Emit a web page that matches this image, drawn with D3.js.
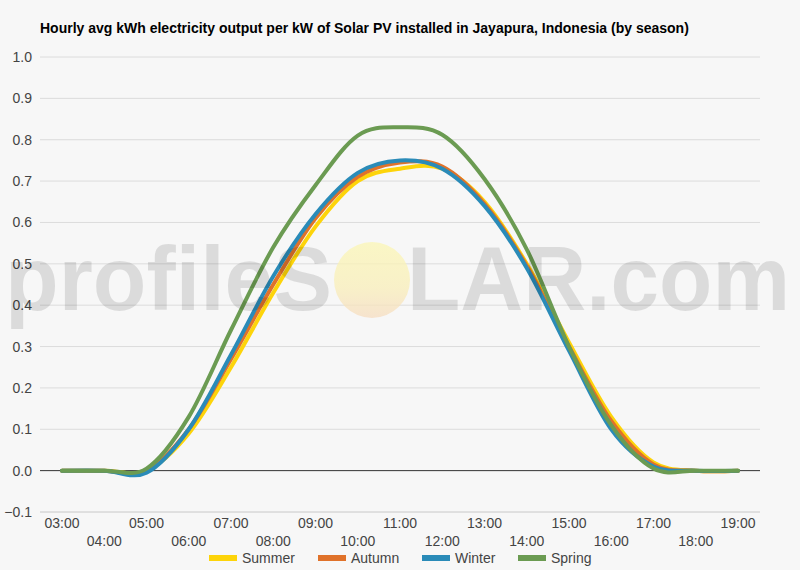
<!DOCTYPE html>
<html>
<head>
<meta charset="utf-8">
<script src="https://cdn.jsdelivr.net/npm/d3@7"></script>
<style>
  body { margin: 0; background: #f7f7f7; }
  svg { display: block; font-family: "Liberation Sans", Arial, sans-serif; }
</style>
</head>
<body>
<div id="chart"></div>
<script>
const hours = [3, 4, 5, 6, 7, 8, 9, 10, 11, 12, 13, 14, 15, 16, 17, 18, 19];
const hourLabels = hours.map(h => `${String(h).padStart(2, "0")}:00`);
const yTicks = [-0.1, 0, 0.1, 0.2, 0.3, 0.4, 0.5, 0.6, 0.7, 0.8, 0.9, 1.0];

const summer = [0, 0, 0, 0.09, 0.25, 0.43, 0.59, 0.70, 0.73, 0.73, 0.65, 0.50, 0.31, 0.13, 0.02, 0, 0];
const autumn = [0, 0, 0, 0.10, 0.27, 0.45, 0.61, 0.71, 0.745, 0.735, 0.645, 0.495, 0.30, 0.12, 0.015, 0, 0];
const winter = [0, 0, -0.005, 0.10, 0.28, 0.47, 0.62, 0.72, 0.75, 0.73, 0.64, 0.49, 0.29, 0.10, 0.01, 0, 0];
const spring = [0, 0, 0.005, 0.13, 0.34, 0.54, 0.69, 0.81, 0.83, 0.812, 0.705, 0.535, 0.30, 0.11, 0.005, 0, 0];

const seasons = ["Summer", "Autumn", "Winter", "Spring"];
const colors = ["#fdd40a", "#e0722a", "#2a8bb8", "#6b9b52"];
const seriesValues = [summer, autumn, winter, spring];

const width = 800;
const height = 570;
const plot = { left: 40, right: 760, top: 57, bottom: 512 };

const svg = d3.select("#chart")
    .append("svg")
    .attr("width", width)
    .attr("height", height);

svg.append("rect")
    .attr("width", width)
    .attr("height", height)
    .attr("fill", "#f7f7f7");

const x = d3.scaleLinear()
    .domain([3, 19])
    .range([62, 738]);

const y = d3.scaleLinear()
    .domain([-0.1, 1.0])
    .range([plot.bottom, plot.top]);

// title
svg.append("text")
    .attr("x", 40)
    .attr("y", 33)
    .style("font-size", "14px")
    .style("font-weight", "bold")
    .attr("fill", "#000")
    .text("Hourly avg kWh electricity output per kW of Solar PV installed in Jayapura, Indonesia (by season)");

// gridlines
svg.append("g")
    .selectAll("line")
    .data(yTicks)
    .join("line")
    .attr("x1", plot.left)
    .attr("x2", plot.right)
    .attr("y1", d => y(d))
    .attr("y2", d => y(d))
    .attr("stroke", d => d === 0 ? "#333" : (d === -0.1 ? "#c8c8c8" : "#dcdcdc"))
    .attr("stroke-width", 1);

// y labels
const yAxis = svg.append("g")
    .attr("transform", `translate(${plot.left},0)`)
    .call(d3.axisLeft(y).tickValues(yTicks).tickFormat(d3.format(".1f")).tickSize(0).tickPadding(8));
yAxis.select(".domain").remove();
yAxis.selectAll("text")
    .style("font-size", "14px")
    .style("font-family", "Liberation Sans, Arial, sans-serif")
    .attr("fill", "#444");

// x labels, two rows
svg.append("g")
    .selectAll("text")
    .data(hours)
    .join("text")
    .attr("x", d => x(d))
    .attr("y", (d, i) => i % 2 === 0 ? 528 : 546)
    .attr("text-anchor", "middle")
    .style("font-size", "14px")
    .attr("fill", "#444")
    .text((d, i) => hourLabels[i]);

// lines
const line = d3.line()
    .x((d, i) => x(hours[i]))
    .y(d => y(d))
    .curve(d3.curveCardinal.tension(0));

svg.append("g")
    .selectAll("path")
    .data(seriesValues)
    .join("path")
    .attr("d", d => line(d))
    .attr("fill", "none")
    .attr("stroke", (d, i) => colors[i])
    .attr("stroke-width", 4)
    .attr("stroke-linejoin", "round")
    .attr("stroke-linecap", "round");

// watermark (drawn over the chart, semi-transparent)
const defs = svg.append("defs");
const grad = defs.append("linearGradient")
    .attr("id", "sun")
    .attr("x1", 0).attr("y1", 0).attr("x2", 0).attr("y2", 1);
grad.append("stop").attr("offset", "0%").attr("stop-color", "#fbf6b4");
grad.append("stop").attr("offset", "60%").attr("stop-color", "#f9eeb8");
grad.append("stop").attr("offset", "100%").attr("stop-color", "#f6dcc0");

const wm = svg.append("g").attr("pointer-events", "none");
wm.append("text")
    .attr("x", 5)
    .attr("y", 310)
    .attr("textLength", 327)
    .attr("lengthAdjust", "spacingAndGlyphs")
    .style("font-size", "90px")
    .style("font-weight", "bold")
    .attr("fill", "#000")
    .attr("fill-opacity", 0.11)
    .text("profileS");
wm.append("circle")
    .attr("cx", 372)
    .attr("cy", 280)
    .attr("r", 38)
    .attr("fill", "url(#sun)")
    .attr("fill-opacity", 0.75);
wm.append("text")
    .attr("x", 407)
    .attr("y", 310)
    .attr("textLength", 383)
    .attr("lengthAdjust", "spacingAndGlyphs")
    .style("font-size", "90px")
    .style("font-weight", "bold")
    .attr("fill", "#000")
    .attr("fill-opacity", 0.11)
    .text("LAR.com");

// legend
const legendX = [209, 318, 422, 518];
const legend = svg.append("g");
seasons.forEach((s, i) => {
    legend.append("rect")
        .attr("x", legendX[i])
        .attr("y", 555)
        .attr("width", 28)
        .attr("height", 6)
        .attr("fill", colors[i]);
    legend.append("text")
        .attr("x", legendX[i] + 33)
        .attr("y", 563)
        .style("font-size", "14px")
        .attr("fill", "#444")
        .text(s);
});
</script>
</body>
</html>
